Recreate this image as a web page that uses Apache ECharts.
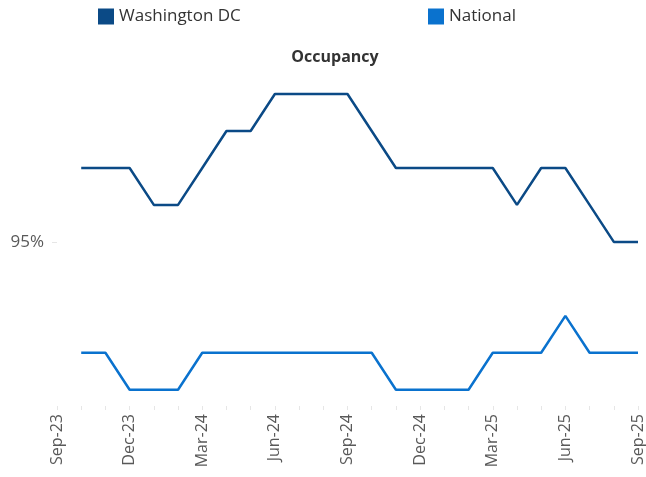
<!DOCTYPE html>
<html>
<head>
<meta charset="utf-8">
<script src="https://cdn.jsdelivr.net/npm/echarts@6/dist/echarts.min.js"></script>
<style>
html,body{margin:0;padding:0;background:#fff;}
#chart{width:646px;height:477px;}
</style>
</head>
<body>
<div id="chart"></div>
<script>
const months = ['Sep-23','Oct-23','Nov-23','Dec-23','Jan-24','Feb-24','Mar-24','Apr-24','May-24','Jun-24','Jul-24','Aug-24','Sep-24','Oct-24','Nov-24','Dec-24','Jan-25','Feb-25','Mar-25','Apr-25','May-25','Jun-25','Jul-25','Aug-25','Sep-25'];
const washingtonDC = [null,96,96,96,95.5,95.5,96,96.5,96.5,97,97,97,97,96.5,96,96,96,96,96,95.5,96,96,95.5,95,95];
const national = [null,93.5,93.5,93,93,93,93.5,93.5,93.5,93.5,93.5,93.5,93.5,93.5,93,93,93,93,93.5,93.5,93.5,94,93.5,93.5,93.5];
const yTickValues = [95];

const chart = echarts.init(document.getElementById('chart'));
const font = '"Open Sans", "Noto Sans", sans-serif';
chart.setOption({
  animation: false,
  title: {
    text: 'Occupancy', left: 330, top: 44, textAlign: 'center',
    textStyle: { fontFamily: font, fontSize: 16, fontWeight: 'bold', color: '#333' }
  },
  legend: [
    { data: ['Washington DC'], left: 93, top: 3, icon: 'rect', itemWidth: 16, itemHeight: 16, itemGap: 6,
      textStyle: { fontFamily: font, fontSize: 17, color: '#333' } },
    { data: ['National'], left: 423, top: 3, icon: 'rect', itemWidth: 16, itemHeight: 16, itemGap: 6,
      textStyle: { fontFamily: font, fontSize: 17, color: '#333' } }
  ],
  grid: { left: 57, right: 8, top: 80, bottom: 71, containLabel: false },
  xAxis: {
    type: 'category', data: months, boundaryGap: false,
    axisLine: { show: false },
    axisTick: { show: true, interval: 0, length: 4, lineStyle: { color: '#e6e6e6' } },
    axisLabel: { interval: 2, rotate: 90, margin: 8, fontFamily: font, fontSize: 16, color: '#595959' },
    splitLine: { show: false }
  },
  yAxis: {
    type: 'value', min: 92.78, max: 97.19,
    axisLine: { show: false },
    axisTick: { show: true, length: 5, customValues: yTickValues, lineStyle: { color: '#e6e6e6' } },
    axisLabel: { customValues: yTickValues, margin: 13, fontFamily: font, fontSize: 17, color: '#595959',
      formatter: v => Math.round(v) + '%' },
    splitLine: { show: false }
  },
  series: [
    { name: 'Washington DC', type: 'line', data: washingtonDC, showSymbol: false, symbol: 'none',
      itemStyle: { color: '#0B4A86' }, lineStyle: { color: '#0B4A86', width: 2.5 } },
    { name: 'National', type: 'line', data: national, showSymbol: false, symbol: 'none',
      itemStyle: { color: '#0A72CE' }, lineStyle: { color: '#0A72CE', width: 2.5 } }
  ]
});
</script>
</body>
</html>
